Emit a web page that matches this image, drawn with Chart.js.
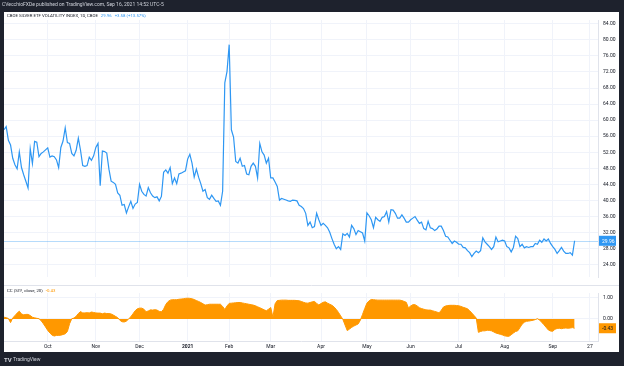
<!DOCTYPE html>
<html lang="en">
<head>
<meta charset="UTF-8" />
<title>CBOE Silver ETF Volatility Index</title>
<script src="https://cdn.jsdelivr.net/npm/chart.js"></script>
<style>
  html, body { margin: 0; padding: 0; background: #1e222d; overflow: hidden; }
  #bg { position: absolute; left: 0; top: 0; }
  #frame { position: absolute; left: 4px; top: 12px; width: 615px; height: 340px; background: #fff; }
  #mainBox { position: absolute; left: 0; top: 0; width: 615px; height: 273px; }
  #ccBox { position: absolute; left: 0; top: 273px; width: 615px; height: 67px; }
</style>
</head>
<body>
<canvas id="bg" width="624" height="366"></canvas>
<div id="frame">
  <div id="mainBox"><canvas id="mainChart"></canvas></div>
  <div id="ccBox"><canvas id="ccChart"></canvas></div>
</div>
<script>
// bar index 0 = 1 Oct 2020, one step per trading day
const firstBar = -20;

const vixValues = [
  57.6, 58.4, 55.0, 53.8, 50.5, 48.9, 47.9, 52.1, 48.2, 46.4,
  44.8, 43.1, 52.9, 49.2, 54.7, 54.5, 50.9, 51.7, 52.1, 52.6,
  53.1, 50.8, 51.1, 50.9, 50.1, 48.2, 53.2, 54.8, 58.1, 54.4,
  54.2, 51.7, 51.1, 52.5, 55.5, 52.5, 48.7, 48.5, 48.7, 50.8,
  50.0, 51.1, 53.2, 54.2, 43.7, 52.3, 52.2, 51.8, 47.8, 44.8,
  44.5, 44.0, 41.9, 41.3, 38.8, 39.0, 36.9, 38.4, 39.8, 38.0,
  39.1, 39.5, 44.0, 42.3, 41.5, 41.1, 43.2, 41.9, 41.1, 40.7,
  40.9, 39.9, 41.0, 47.0, 47.6, 46.8, 48.2, 44.2, 45.6, 44.2,
  46.6, 46.8, 47.1, 47.4, 50.3, 51.5, 49.3, 45.8, 47.8, 45.8,
  44.2, 42.3, 42.7, 40.7, 40.3, 41.3, 40.5, 39.8, 39.9, 38.8,
  42.3, 69.3, 72.1, 78.8, 57.6, 55.8, 49.7, 49.3, 50.5, 48.5,
  48.7, 46.6, 46.4, 48.5, 49.3, 48.5, 45.6, 54.2, 52.1, 51.3,
  49.3, 50.5, 45.6, 45.6, 44.6, 43.5, 40.1, 40.5, 40.3, 40.1,
  39.9, 39.8, 40.1, 40.0, 39.9, 38.8, 38.5, 38.0, 36.8, 33.8,
  34.6, 33.2, 33.5, 36.8, 35.2, 33.8, 34.3, 33.8, 33.2, 32.1,
  30.5, 29.1, 28.0, 28.5, 27.8, 31.7, 31.3, 31.8, 30.9, 33.8,
  33.0, 31.5, 32.5, 32.2, 31.9, 29.9, 36.9, 36.2, 35.2, 33.2,
  35.8, 35.2, 34.8, 35.8, 36.0, 37.2, 34.6, 37.7, 37.6, 36.8,
  35.6, 35.6, 36.4, 35.6, 34.6, 34.6, 35.2, 35.6, 36.0, 35.1,
  34.3, 34.6, 33.0, 32.7, 34.8, 33.2, 33.0, 32.5, 32.9, 33.6,
  33.6, 32.5, 31.1, 30.9, 30.1, 29.3, 29.9, 29.6, 29.1, 29.1,
  28.3, 28.2, 27.5, 27.0, 26.0, 26.8, 27.4, 27.0, 27.5, 30.7,
  29.7, 29.1, 28.5, 27.8, 28.5, 30.9, 29.7, 29.9, 30.1, 29.9,
  28.5, 28.2, 27.2, 28.3, 31.1, 30.5, 28.5, 29.1, 28.2, 28.5,
  28.3, 28.5, 28.5, 29.3, 29.1, 30.1, 29.6, 30.4, 29.9, 30.4,
  29.3, 28.5, 27.8, 26.8, 27.5, 28.3, 27.4, 26.8, 26.8, 27.0,
  26.38, 29.96
];

const ccValues = [
  0.08, 0.06, 0.02, -0.17, 0.05, 0.15, 0.27, 0.36, 0.23, 0.19,
  0.21, 0.21, 0.16, 0.08, 0.05, 0.03, 0.01, -0.08, -0.22, -0.37,
  -0.53, -0.65, -0.75, -0.79, -0.76, -0.76, -0.75, -0.72, -0.69, -0.58,
  -0.22, 0.01, 0.04, 0.12, 0.25, 0.34, 0.28, 0.28, 0.29, 0.28,
  0.32, 0.30, 0.28, 0.27, 0.27, 0.24, 0.27, 0.25, 0.25, 0.23,
  0.18, 0.12, 0.06, -0.06, -0.13, -0.14, -0.10, 0.00, 0.10, 0.24,
  0.38, 0.47, 0.50, 0.50, 0.45, 0.33, 0.37, 0.42, 0.41, 0.43,
  0.41, 0.35, 0.33, 0.45, 0.67, 0.80, 0.87, 0.89, 0.89, 0.89,
  0.91, 0.92, 0.93, 0.95, 0.96, 0.95, 0.93, 0.90, 0.85, 0.81,
  0.76, 0.70, 0.64, 0.66, 0.68, 0.68, 0.68, 0.68, 0.68, 0.68,
  0.58, 0.44, 0.60, 0.72, 0.73, 0.74, 0.75, 0.76, 0.76, 0.74,
  0.72, 0.70, 0.68, 0.66, 0.64, 0.61, 0.56, 0.52, 0.47, 0.42,
  0.38, 0.45, 0.53, 0.08, 0.70, 0.85, 0.86, 0.87, 0.87, 0.87,
  0.86, 0.86, 0.86, 0.86, 0.85, 0.84, 0.81, 0.77, 0.74, 0.73,
  0.76, 0.79, 0.81, 0.72, 0.65, 0.71, 0.77, 0.79, 0.73, 0.68,
  0.63, 0.55, 0.44, 0.30, 0.14, -0.02, -0.28, -0.54, -0.47, -0.39,
  -0.33, -0.28, -0.23, -0.06, 0.21, 0.48, 0.73, 0.84, 0.90, 0.89,
  0.88, 0.87, 0.87, 0.87, 0.87, 0.87, 0.87, 0.87, 0.87, 0.87,
  0.87, 0.87, 0.85, 0.81, 0.77, 0.51, 0.60, 0.66, 0.66, 0.60,
  0.52, 0.48, 0.45, 0.42, 0.41, 0.41, 0.38, 0.35, 0.32, 0.28,
  0.40, 0.55, 0.60, 0.62, 0.63, 0.63, 0.63, 0.62, 0.61, 0.58,
  0.54, 0.51, 0.47, 0.38, 0.27, 0.16, 0.04, -0.62, -0.58, -0.55,
  -0.55, -0.52, -0.53, -0.55, -0.60, -0.65, -0.68, -0.71, -0.74, -0.78,
  -0.80, -0.80, -0.73, -0.65, -0.58, -0.55, -0.40, -0.24, -0.15, -0.11,
  -0.10, -0.08, -0.06, -0.03, 0.01, -0.05, -0.16, -0.27, -0.39, -0.51,
  -0.56, -0.57, -0.48, -0.44, -0.43, -0.45, -0.43, -0.42, -0.43, -0.42,
  -0.40, -0.43
];

const monthTicks = [0, 22, 42, 64, 83, 102, 125, 146, 166, 188, 209, 231, 248];
const monthLabels = ['Oct', 'Nov', 'Dec', '2021', 'Feb', 'Mar', 'Apr', 'May', 'Jun', 'Jul', 'Aug', 'Sep', '27'];
const priceTicks = [24, 28, 32, 36, 40, 44, 48, 52, 56, 60, 64, 68, 72, 76, 80, 84];
const ccTicks = [0, 1];

const FONT = "Roboto, 'Liberation Sans', sans-serif";
const BLUE = '#2e97f3';
const ORANGE = '#ff9800';
const TEXT = '#131722';
const GRID = '#f0f3fa';
const SEP = '#e0e3eb';

// dark frame, header and footer
const bg = document.getElementById('bg').getContext('2d');
bg.fillStyle = '#1e222d';
bg.fillRect(0, 0, 624, 366);
bg.fillStyle = '#d1d4dc';
bg.textBaseline = 'middle';
bg.font = '5px ' + FONT;
bg.fillText('CVecchioFXDe published on TradingView.com, Sep 16, 2021 14:52 UTC-5', 2, 5);
bg.font = 'bold 6px ' + FONT;
bg.fillText('TV', 4, 360);
bg.font = '5px ' + FONT;
bg.fillText('TradingView', 13, 360);

const vixPoints = vixValues.map((v, k) => ({ x: firstBar + k, y: v }));
const ccPoints = ccValues.map((v, k) => ({ x: firstBar + k, y: v }));

function drawParts(ctx, parts, x, y) {
    parts.forEach(p => {
        ctx.fillStyle = p[1];
        ctx.fillText(p[0], x, y);
        x += ctx.measureText(p[0]).width + 3;
    });
}

function tagBox(ctx, area, y, fill, color, text) {
    ctx.fillStyle = fill;
    ctx.fillRect(area.right + 1, y - 5, 17, 10);
    ctx.fillStyle = color;
    ctx.font = '5px ' + FONT;
    ctx.textAlign = 'left';
    ctx.textBaseline = 'middle';
    ctx.fillText(text, area.right + 4, y + 0.5);
}

const mainOverlay = {
    id: 'mainOverlay',
    afterDraw(chart) {
        const ctx = chart.ctx;
        const area = chart.chartArea;
        const last = vixValues[vixValues.length - 1];
        const prev = vixValues[vixValues.length - 2];
        const y = chart.scales.y.getPixelForValue(last);
        ctx.save();
        ctx.strokeStyle = 'rgba(46,151,243,0.35)';
        ctx.lineWidth = 1;
        ctx.beginPath();
        ctx.moveTo(area.left, Math.round(y) + 0.5);
        ctx.lineTo(area.right, Math.round(y) + 0.5);
        ctx.stroke();
        tagBox(ctx, area, y, BLUE, '#ffffff', last.toFixed(2));
        const chg = last - prev;
        ctx.font = '4.3px ' + FONT;
        ctx.textBaseline = 'middle';
        drawParts(ctx, [
            ['CBOE SILVER ETF VOLATILITY INDEX, 1D, CBOE', TEXT],
            [last.toFixed(2), BLUE],
            ['+' + chg.toFixed(2) + ' (+' + (chg / prev * 100).toFixed(2) + '%)', BLUE]
        ], 3, 4);
        ctx.restore();
    }
};

const ccOverlay = {
    id: 'ccOverlay',
    afterDraw(chart) {
        const ctx = chart.ctx;
        const area = chart.chartArea;
        const last = ccValues[ccValues.length - 1];
        ctx.save();
        ctx.strokeStyle = SEP;
        ctx.lineWidth = 1;
        ctx.beginPath();
        ctx.moveTo(0, 0.5);
        ctx.lineTo(chart.width, 0.5);
        ctx.stroke();
        tagBox(ctx, area, chart.scales.y.getPixelForValue(last), ORANGE, TEXT, last.toFixed(2));
        ctx.font = '4.3px ' + FONT;
        ctx.textBaseline = 'middle';
        drawParts(ctx, [
            ['CC (SI1!, close, 20)', TEXT],
            [last.toFixed(2), ORANGE]
        ], 3, 6);
        ctx.restore();
    }
};

const xMin = -20;
const xMax = 251.7;

new Chart(document.getElementById('mainChart'), {
    type: 'line',
    data: {
        datasets: [{
            data: vixPoints,
            borderColor: BLUE,
            borderWidth: 1.2,
            pointRadius: 0,
            tension: 0,
            fill: false
        }]
    },
    options: {
        responsive: true,
        maintainAspectRatio: false,
        animation: false,
        layout: { padding: 0 },
        plugins: { legend: { display: false }, tooltip: { enabled: false } },
        scales: {
            x: {
                type: 'linear',
                min: xMin,
                max: xMax,
                afterBuildTicks: s => { s.ticks = monthTicks.map(v => ({ value: v })); },
                afterFit: s => { s.height = 0; },
                ticks: { display: false },
                grid: { color: GRID, drawTicks: false },
                border: { display: false }
            },
            y: {
                position: 'right',
                min: 20.94,
                max: 84.94,
                afterBuildTicks: s => { s.ticks = priceTicks.map(v => ({ value: v })); },
                afterFit: s => { s.width = 21; },
                ticks: {
                    padding: 5,
                    color: TEXT,
                    font: { family: FONT, size: 5 },
                    callback: v => Number(v).toFixed(2)
                },
                grid: { color: GRID, drawTicks: false },
                border: { color: SEP }
            }
        }
    },
    plugins: [mainOverlay]
});

new Chart(document.getElementById('ccChart'), {
    type: 'line',
    data: {
        datasets: [{
            data: ccPoints,
            borderColor: ORANGE,
            backgroundColor: ORANGE,
            borderWidth: 1,
            pointRadius: 0,
            tension: 0,
            fill: 'origin'
        }]
    },
    options: {
        responsive: true,
        maintainAspectRatio: false,
        animation: false,
        layout: { padding: 0 },
        plugins: { legend: { display: false }, tooltip: { enabled: false } },
        scales: {
            x: {
                type: 'linear',
                min: xMin,
                max: xMax,
                afterBuildTicks: s => { s.ticks = monthTicks.map(v => ({ value: v })); },
                afterFit: s => { s.height = 11; },
                ticks: {
                    autoSkip: false,
                    maxRotation: 0,
                    padding: 3,
                    color: TEXT,
                    font: c => ({
                        family: FONT,
                        size: 5,
                        weight: c.tick && c.tick.label === '2021' ? 'bold' : 'normal'
                    }),
                    callback: v => monthLabels[monthTicks.indexOf(v)]
                },
                grid: { color: GRID, drawTicks: false },
                border: { color: SEP }
            },
            y: {
                position: 'right',
                min: -1.02,
                max: 1.2,
                afterBuildTicks: s => { s.ticks = ccTicks.map(v => ({ value: v })); },
                afterFit: s => { s.width = 21; },
                ticks: {
                    padding: 5,
                    color: TEXT,
                    font: { family: FONT, size: 5 },
                    callback: v => Number(v).toFixed(2)
                },
                grid: { color: GRID, drawTicks: false },
                border: { color: SEP }
            }
        }
    },
    plugins: [ccOverlay]
});
</script>
</body>
</html>
